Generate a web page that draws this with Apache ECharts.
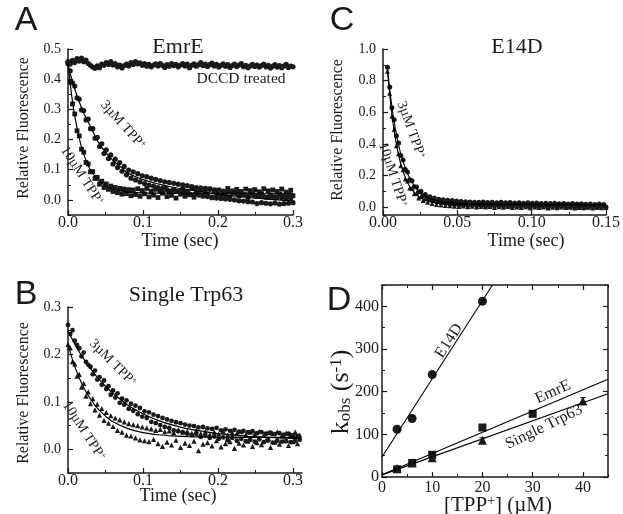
<!DOCTYPE html>
<html><head><meta charset="utf-8">
<script src="https://cdn.jsdelivr.net/npm/echarts@6/dist/echarts.min.js"></script>
<style>html,body{margin:0;padding:0;background:#fff}#c{width:623px;height:514px}</style>
</head><body><div id="c"></div>
<script>
const SERIF = "'Liberation Serif','DejaVu Serif',serif";
const SANS = "'Liberation Sans',Arial,sans-serif";
const INK = '#1a1a1a';

// ---------- Panel A : EmrE (time step 0.003 s) ----------
const aStep = 0.003;
const aDccd = [0.458,0.45,0.462,0.455,0.468,0.46,0.47,0.458,0.463,0.452,
0.446,0.44,0.436,0.444,0.438,0.45,0.446,0.455,0.449,0.458,
0.447,0.452,0.441,0.447,0.437,0.445,0.45,0.444,0.455,0.449,
0.458,0.451,0.454,0.446,0.452,0.443,0.449,0.441,0.447,0.451,
0.444,0.452,0.446,0.439,0.448,0.443,0.452,0.445,0.449,0.441,
0.447,0.452,0.444,0.45,0.438,0.446,0.451,0.443,0.448,0.455,
0.445,0.45,0.442,0.448,0.453,0.444,0.449,0.44,0.446,0.451,
0.443,0.448,0.439,0.445,0.45,0.442,0.447,0.452,0.441,0.446,
0.438,0.444,0.449,0.442,0.447,0.44,0.445,0.45,0.441,0.446,
0.437,0.443,0.448,0.44,0.445,0.438,0.444,0.449,0.439,0.443,
0.441];
const a3 = [0.455,0.428,0.388,0.377,0.338,0.334,0.298,0.296,0.265,0.268,
0.236,0.236,0.204,0.207,0.177,0.186,0.154,0.166,0.137,0.149,
0.119,0.135,0.107,0.124,0.095,0.111,0.083,0.099,0.072,0.093,
0.066,0.087,0.06,0.08,0.054,0.077,0.049,0.072,0.046,0.068,
0.041,0.064,0.038,0.06,0.034,0.058,0.03,0.055,0.028,0.052,
0.025,0.05,0.024,0.047,0.02,0.044,0.018,0.041,0.016,0.04,
0.013,0.038,0.011,0.035,0.009,0.033,0.006,0.031,0.005,0.029,
0.003,0.027,0.002,0.024,0.0,0.022,-0.003,0.02,-0.004,0.018,
-0.006,0.017,-0.007,0.015,-0.012,0.013,-0.009,0.012,-0.011,0.01,
-0.013,0.009,-0.01,0.008,-0.014,0.007,-0.012,0.006,-0.011,0.005,
-0.009];
const a10 = [0.452,0.39,0.318,0.285,0.229,0.212,0.168,0.158,0.124,0.119,
0.093,0.094,0.071,0.075,0.052,0.062,0.041,0.053,0.035,0.046,
0.028,0.041,0.024,0.038,0.019,0.036,0.021,0.034,0.014,0.033,
0.018,0.037,0.012,0.031,0.02,0.038,0.01,0.029,0.016,0.035,
0.008,0.03,0.022,0.04,0.011,0.027,0.015,0.033,0.006,0.028,
0.019,0.036,0.012,0.025,0.017,0.039,0.009,0.03,0.021,0.034,
0.013,0.027,0.018,0.037,0.007,0.029,0.02,0.033,0.011,0.026,
0.016,0.038,0.01,0.03,0.022,0.035,0.013,0.028,0.017,0.036,
0.008,0.031,0.019,0.034,0.012,0.027,0.021,0.037,0.009,0.03,
0.015,0.033,0.011,0.028,0.02,0.036,0.013,0.026,0.018,0.032,
0.014];
const aFitT  = [0,0.005,0.01,0.015,0.02,0.025,0.03,0.04,0.05,0.06,0.07,0.08,0.1,0.12,0.14,0.16,0.18,0.2,0.22,0.24,0.26,0.28,0.3];
const aFit3  = [0.45,0.40,0.36,0.325,0.293,0.267,0.243,0.193,0.158,0.130,0.110,0.089,0.067,0.053,0.042,0.034,0.026,0.019,0.013,0.008,0.004,0.0,-0.003];
const aFit10 = [0.45,0.344,0.264,0.204,0.159,0.125,0.099,0.066,0.047,0.036,0.030,0.026,0.0235,0.0225,0.022,0.022,0.022,0.022,0.022,0.022,0.022,0.022,0.022];

// ---------- Panel B : Single Trp63 (time step 0.003 s) ----------
const bStep = 0.003;
const b3 = [0.262,0.243,0.251,0.229,0.22,0.213,0.196,0.204,0.184,0.178,
0.174,0.158,0.166,0.147,0.152,0.136,0.145,0.127,0.133,0.115,
0.124,0.109,0.118,0.098,0.107,0.094,0.103,0.085,0.096,0.081,
0.092,0.074,0.087,0.069,0.08,0.066,0.078,0.058,0.073,0.055,
0.07,0.051,0.066,0.047,0.063,0.045,0.06,0.04,0.057,0.038,
0.055,0.036,0.052,0.033,0.05,0.03,0.049,0.032,0.046,0.026,
0.047,0.029,0.044,0.024,0.043,0.027,0.045,0.022,0.04,0.025,
0.042,0.019,0.039,0.024,0.041,0.018,0.037,0.022,0.039,0.017,
0.036,0.02,0.038,0.016,0.034,0.021,0.036,0.015,0.033,0.019,
0.035,0.014,0.032,0.018,0.034,0.016,0.031,0.017,0.033,0.015,
0.03,0.018,0.028,0.02];
const b10 = [0.221,0.214,0.185,0.18,0.154,0.158,0.131,0.139,0.112,0.121,
0.096,0.107,0.083,0.095,0.072,0.086,0.061,0.078,0.055,0.071,
0.048,0.066,0.04,0.062,0.036,0.058,0.03,0.054,0.028,0.052,
0.024,0.05,0.02,0.047,0.018,0.045,0.016,0.043,0.021,0.04,
0.012,0.042,0.006,0.037,0.015,0.039,0.009,0.035,0.019,0.041,
0.004,0.036,0.013,0.038,0.008,0.034,0.017,0.04,-0.003,0.033,
0.011,0.037,0.014,0.031,0.007,0.036,0.018,0.032,0.005,0.038,
0.012,0.03,0.016,0.035,0.002,0.033,0.013,0.037,0.009,0.031,
0.017,0.036,0.006,0.032,0.014,0.038,0.01,0.03,0.019,0.035,
0.004,0.033,0.015,0.037,0.011,0.029,0.018,0.034,0.008,0.031,
0.016,0.036,0.012,0.03];
const bFitT  = [0,0.01,0.02,0.03,0.04,0.05,0.06,0.08,0.1,0.12,0.14,0.16,0.18,0.2,0.22,0.24,0.26,0.28,0.3,0.31];
const bFit3  = [0.25,0.219,0.193,0.170,0.150,0.133,0.118,0.093,0.075,0.061,0.051,0.043,0.038,0.033,0.030,0.0275,0.0256,0.0242,0.0232,0.0228];
const bFit10 = [0.22,0.170,0.133,0.106,0.085,0.070,0.058,0.0435,0.0353,0.0307,0.0282,0.0268,0.026,0.0255,0.0252,0.025,0.025,0.025,0.025,0.025];

// ---------- Panel C : E14D (starts 0.003 s, step 0.0015 s) ----------
const cStart = 0.003, cStep = 0.0015;
const c3 = [0.885,0.76,0.628,0.552,0.452,0.405,0.327,0.298,0.238,0.222,
0.173,0.166,0.128,0.127,0.095,0.1,0.071,0.08,0.054,0.066,
0.043,0.058,0.034,0.05,0.028,0.047,0.024,0.044,0.02,0.041,
0.017,0.038,0.014,0.036,0.012,0.034,0.01,0.033,0.013,0.031,
0.008,0.03,0.011,0.032,0.006,0.029,0.012,0.031,0.007,0.028,
0.01,0.03,0.005,0.027,0.009,0.029,0.004,0.026,0.008,0.028,
0.003,0.025,0.007,0.027,0.002,0.024,0.006,0.026,0.001,0.023,
0.005,0.025,0.0,0.022,0.004,0.024,-0.001,0.021,0.003,0.023,
-0.002,0.02,0.002,0.022,-0.003,0.019,0.001,0.021,-0.004,0.018,
0.0,0.02,-0.003,0.017,0.001,0.019,-0.002,0.016,0.0];
const c10 = [0.86,0.72,0.575,0.493,0.388,0.338,0.262,0.236,0.178,0.165,
0.12,0.118,0.084,0.088,0.058,0.067,0.041,0.053,0.03,0.046,
0.022,0.041,0.017,0.036,0.013,0.033,0.01,0.031,0.008,0.03,
0.006,0.027,0.004,0.028,0.007,0.025,0.002,0.026,0.005,0.024,
0.001,0.025,0.004,0.023,0.0,0.024,0.003,0.022,-0.002,0.023,
0.002,0.021,-0.001,0.022,0.003,0.02,-0.003,0.021,0.001,0.019,
-0.002,0.02,0.002,0.018,-0.004,0.019,0.0,0.017,-0.003,0.018,
0.001,0.016,-0.005,0.017,-0.001,0.015,-0.004,0.016,0.0,0.014,
-0.003,0.015,-0.001,0.013,-0.005,0.014,-0.002,0.012,-0.004,0.013,
-0.001,0.011,-0.006,0.012,-0.002,0.01,-0.004,0.011,-0.003];
const cFitT  = [0.003,0.0045,0.006,0.0075,0.009,0.0105,0.012,0.015,0.018,0.021,0.024,0.027,0.03,0.036,0.042,0.05,0.06,0.08,0.1,0.15];
const cFit3  = [0.88,0.748,0.636,0.542,0.462,0.394,0.336,0.247,0.182,0.136,0.103,0.080,0.063,0.042,0.031,0.025,0.0215,0.02,0.019,0.016];
const cFit10 = [0.865,0.711,0.585,0.482,0.397,0.328,0.271,0.187,0.130,0.092,0.067,0.050,0.038,0.0255,0.0197,0.0165,0.0155,0.015,0.014,0.012];

// ---------- Panel D : kobs vs [TPP+] ----------
const dE14dX = [3,6,10,20];
const dE14dY = [112,137,240,412];
const dEmrEX = [3,6,10,20,30];
const dEmrEY = [18,33,52,116,148];
const dTrpX  = [3,6,10,20,40];
const dTrpY  = [20,33,45,86,178];
const dTrpErr = [5,4,5,6,8];
const dFitE14dX = [0,22.0], dFitE14dY = [47,450];
const dFitEmrEX = [0,45],   dFitEmrEY = [5,229];
const dFitTrpX  = [0,45],   dFitTrpY  = [5,195];

// ---------- tick labels ----------
const abXTicks = [0,0.1,0.2,0.3], abXLabels = ['0.0','0.1','0.2','0.3'];
const abXMinor = [0.05,0.15,0.25];
const aYTicks = [0,0.1,0.2,0.3,0.4,0.5], aYLabels = ['0.0','0.1','0.2','0.3','0.4','0.5'];
const aYMinor = [-0.05,0.05,0.15,0.25,0.35,0.45];
const bYTicks = [0,0.1,0.2,0.3], bYLabels = ['0.0','0.1','0.2','0.3'];
const bYMinor = [-0.05,0.05,0.15,0.25];
const cXTicks = [0,0.05,0.10,0.15], cXLabels = ['0.00','0.05','0.10','0.15'];
const cXMinor = [0.025,0.075,0.125];
const cYTicks = [0,0.2,0.4,0.6,0.8,1.0], cYLabels = ['0.0','0.2','0.4','0.6','0.8','1.0'];
const cYMinor = [-0.05,0.1,0.3,0.5,0.7,0.9];
const dXTicks = [0,10,20,30,40], dXLabels = ['0','10','20','30','40'];
const dXMinor = [5,15,25,35,45];
const dYTicks = [0,100,200,300,400], dYLabels = ['0','100','200','300','400'];
const dYMinor = [50,150,250,350,450];

// ---------- helpers ----------
const sampled = (start, step, vals) => vals.map((v, i) => [start + i * step, v]);
const zip = (xs, ys) => xs.map((x, i) => [x, ys[i]]);

const xAxes = [], yAxes = [];
function axis(list, o) {
  const idx = list.length;
  list.push({
    type: 'value', gridIndex: o.grid, min: o.min, max: o.max, position: o.pos,
    axisLine: {show: true, onZero: false, lineStyle: {color: INK, width: 1.5}},
    axisTick: {show: true, inside: true, length: 5, customValues: o.major, lineStyle: {color: INK, width: 1.2}},
    axisLabel: {show: !!o.labels, customValues: o.major, margin: o.margin == null ? 5 : o.margin,
      fontFamily: SERIF, fontSize: o.fs || 14, color: INK,
      formatter: (v) => { const k = o.major.findIndex(m => Math.abs(m - v) < 1e-9); return k < 0 ? '' : o.labels[k]; }},
    splitLine: {show: false}
  });
  list.push({
    type: 'value', gridIndex: o.grid, min: o.min, max: o.max, position: o.pos,
    axisLine: {show: false, onZero: false},
    axisTick: {show: true, inside: true, length: 3, customValues: o.minor, lineStyle: {color: INK, width: 1}},
    axisLabel: {show: false}, splitLine: {show: false}
  });
  return idx;
}

const grids = [
  {left: 68, top: 49, width: 225, height: 166},   // A
  {left: 68, top: 307, width: 234, height: 166},  // B
  {left: 383, top: 49, width: 227, height: 166},  // C
  {left: 382, top: 285, width: 226, height: 192}  // D
];

const axA = axis(xAxes, {grid: 0, min: 0, max: 0.3, pos: 'bottom', major: abXTicks, minor: abXMinor, labels: abXLabels, fs: 16, margin: 0});
const ayA = axis(yAxes, {grid: 0, min: -0.05, max: 0.5, pos: 'left', major: aYTicks, minor: aYMinor, labels: aYLabels, fs: 14, margin: 7});
const axB = axis(xAxes, {grid: 1, min: 0, max: 0.312, pos: 'bottom', major: abXTicks, minor: abXMinor, labels: abXLabels, fs: 16, margin: 0});
const ayB = axis(yAxes, {grid: 1, min: -0.05, max: 0.3, pos: 'left', major: bYTicks, minor: bYMinor, labels: bYLabels, fs: 14, margin: 7});
const axC = axis(xAxes, {grid: 2, min: 0, max: 0.15, pos: 'bottom', major: cXTicks, minor: cXMinor, labels: cXLabels, fs: 16, margin: 0});
const ayC = axis(yAxes, {grid: 2, min: -0.05, max: 1.0, pos: 'left', major: cYTicks, minor: cYMinor, labels: cYLabels, fs: 14, margin: 7});
const axD = axis(xAxes, {grid: 3, min: 0, max: 45, pos: 'bottom', major: dXTicks, minor: dXMinor, labels: dXLabels, fs: 16, margin: 3});
const ayD = axis(yAxes, {grid: 3, min: 0, max: 450, pos: 'left', major: dYTicks, minor: dYMinor, labels: dYLabels, fs: 16, margin: 3});
axis(xAxes, {grid: 3, min: 0, max: 45, pos: 'top', major: dXTicks, minor: dXMinor});
axis(yAxes, {grid: 3, min: 0, max: 450, pos: 'right', major: dYTicks, minor: dYMinor});

function scat(xi, yi, data, symbol, size) {
  return {type: 'scatter', xAxisIndex: xi, yAxisIndex: yi, data, symbol, symbolSize: size,
    itemStyle: {color: INK, opacity: 1}, silent: true, z: 2};
}
function fit(xi, yi, data, w, smooth) {
  return {type: 'line', xAxisIndex: xi, yAxisIndex: yi, data, showSymbol: false, symbol: 'none',
    smooth: smooth ? 0.3 : false, clip: true, lineStyle: {color: '#000', width: w || 1.2}, silent: true, z: 3};
}

const trpErrData = dTrpX.map((x, i) => [x, dTrpY[i] - dTrpErr[i], dTrpY[i] + dTrpErr[i]]);

const series = [
  scat(axA, ayA, sampled(0, aStep, aDccd), 'circle', 5.2),
  scat(axA, ayA, sampled(0, aStep, a3), 'circle', 5.2),
  scat(axA, ayA, sampled(0, aStep, a10), 'rect', 4.8),
  fit(axA, ayA, zip(aFitT, aFit3), 1.2, true),
  fit(axA, ayA, zip(aFitT, aFit10), 1.2, true),
  scat(axB, ayB, sampled(0, bStep, b3), 'circle', 4.8),
  scat(axB, ayB, sampled(0, bStep, b10), 'triangle', 5.2),
  fit(axB, ayB, zip(bFitT, bFit3), 1.2, true),
  fit(axB, ayB, zip(bFitT, bFit10), 1.2, true),
  scat(axC, ayC, sampled(cStart, cStep, c3), 'circle', 5),
  scat(axC, ayC, sampled(cStart, cStep, c10), 'triangle', 5),
  fit(axC, ayC, zip(cFitT, cFit3), 1.1, true),
  fit(axC, ayC, zip(cFitT, cFit10), 1.1, true),
  fit(axD, ayD, zip(dFitE14dX, dFitE14dY), 1.1, false),
  fit(axD, ayD, zip(dFitEmrEX, dFitEmrEY), 1.1, false),
  fit(axD, ayD, zip(dFitTrpX, dFitTrpY), 1.1, false),
  {type: 'custom', xAxisIndex: axD, yAxisIndex: ayD, data: trpErrData, silent: true, z: 4,
    renderItem: (params, api) => {
      const x = api.value(0), p1 = api.coord([x, api.value(1)]), p2 = api.coord([x, api.value(2)]);
      const st = {stroke: INK, lineWidth: 1};
      return {type: 'group', children: [
        {type: 'line', shape: {x1: p1[0], y1: p1[1], x2: p2[0], y2: p2[1]}, style: st},
        {type: 'line', shape: {x1: p1[0] - 3, y1: p1[1], x2: p1[0] + 3, y2: p1[1]}, style: st},
        {type: 'line', shape: {x1: p2[0] - 3, y1: p2[1], x2: p2[0] + 3, y2: p2[1]}, style: st}
      ]};
    }},
  scat(axD, ayD, zip(dE14dX, dE14dY), 'circle', 9),
  scat(axD, ayD, zip(dEmrEX, dEmrEY), 'rect', 8),
  scat(axD, ayD, zip(dTrpX, dTrpY), 'triangle', 9)
];

function txt(x, y, text, fs, deg, family) {
  const fam = family || SERIF;
  const rich = {
    n: {fontFamily: fam, fontSize: fs, fill: INK},
    sp: {fontFamily: fam, fontSize: Math.round(fs * 0.65), fill: INK, verticalAlign: 'top', lineHeight: fs},
    sb: {fontFamily: fam, fontSize: Math.round(fs * 0.65), fill: INK, verticalAlign: 'bottom', lineHeight: fs * 0.6}
  };
  return {type: 'text', x, y, rotation: (deg || 0) * Math.PI / 180, silent: true, z: 10,
    style: {text, rich, fontFamily: fam, fontSize: fs, fill: INK, align: 'center', verticalAlign: 'middle'}};
}

const graphic = [
  txt(26, 21, 'A', 34, 0, SANS),
  txt(342, 21, 'C', 34, 0, SANS),
  txt(26, 295, 'B', 34, 0, SANS),
  txt(339, 301, 'D', 34, 0, SANS),
  txt(178, 47, 'EmrE', 22),
  txt(517, 47, 'E14D', 22),
  txt(186, 295, 'Single Trp63', 22),
  txt(241, 79, 'DCCD treated', 15.5),
  txt(180, 241, 'Time (sec)', 18),
  txt(178, 496, 'Time (sec)', 18),
  txt(526, 241, 'Time (sec)', 18),
  txt(24, 128, 'Relative Fluorescence', 16, 90),
  txt(24, 393, 'Relative Fluorescence', 16, 90),
  txt(338, 130, 'Relative Fluorescence', 16, 90),
  txt(341, 392, '{n|k}{sb|obs}{n| (s}{sp|-1}{n|)}', 26, 90),
  txt(498, 505, '{n|[TPP}{sp|+}{n|] (\u00b5M)}', 21),
  txt(123, 125, '{n|3\u00b5M TPP}{sp|+}', 14, -48),
  txt(82, 176, '{n|10\u00b5M TPP}{sp|+}', 14, -57),
  txt(113, 363, '{n|3\u00b5M TPP}{sp|+}', 14, -45),
  txt(84, 431, '{n|10\u00b5M TPP}{sp|+}', 14, -57),
  txt(411, 130, '{n|3\u00b5M TPP}{sp|+}', 14, -70),
  txt(393, 175, '{n|10\u00b5M TPP}{sp|+}', 14, -72),
  txt(449, 341, 'E14D', 16, 57),
  txt(553, 392, 'EmrE', 16, 24),
  txt(544, 427, 'Single Trp63', 16, 26)
];

const chart = echarts.init(document.getElementById('c'), null, {renderer: 'canvas'});
chart.setOption({
  animation: false,
  backgroundColor: '#fff',
  grid: grids,
  xAxis: xAxes,
  yAxis: yAxes,
  series,
  graphic
});
</script></body></html>
